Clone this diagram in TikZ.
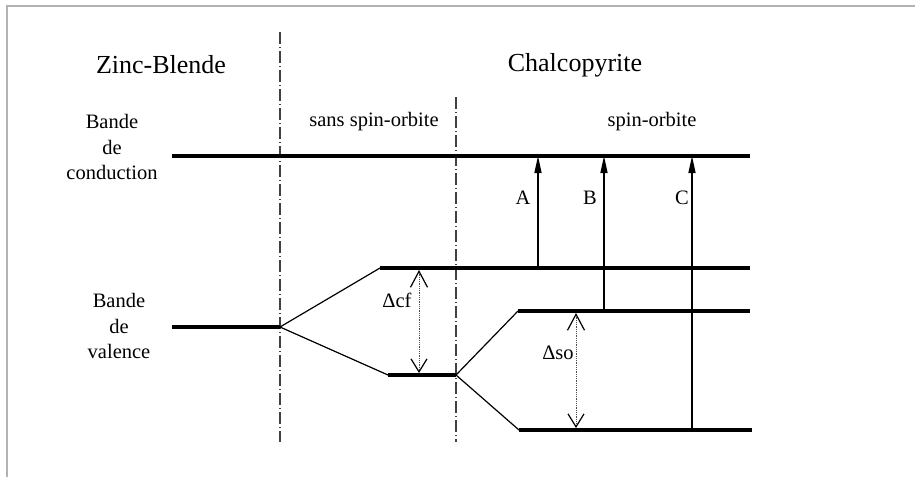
\documentclass[tikz,border=0pt]{standalone}
\usepackage{fontspec}
\setmainfont{Liberation Serif}
\usetikzlibrary{arrows.meta}
\begin{document}
\begin{tikzpicture}[x=1pt,y=-1pt,
  level/.style={line width=3.6pt},
  split/.style={line width=1.2pt},
  sep/.style={line width=1.3pt,draw=black!75,dash pattern=on 12pt off 3pt on 1pt off 3pt},
  trans/.style={line width=1.4pt,-{Stealth[length=17pt,width=7pt,inset=0pt]}},
  gap/.style={line width=0.8pt,densely dotted,draw=black!70,{Straight Barb[length=16pt,width=17pt,line width=1.2pt,color=black]}-{Straight Barb[length=13pt,width=16pt,line width=1.2pt,color=black]}},
  title/.style={font=\fontsize{26}{30}\selectfont,inner sep=0pt},
  lab/.style={font=\fontsize{20.5}{25.5}\selectfont,inner sep=0pt,align=center}]
\useasboundingbox (0,0) rectangle (915,477);
\draw[line width=2pt,draw=black!30] (7,477) -- (7,6) -- (915,6);

% separators
\coordinate (s1t) at (280,32); \coordinate (s1b) at (280,442);
\coordinate (s2t) at (456,97); \coordinate (s2b) at (456,442);
\draw[sep] (s1t) -- (s1b);
\draw[sep] (s2t) -- (s2b);

% titles
\node[title] (zb) at (161,65) {Zinc-Blende};
\node[title] (ch) at (575,65) {Chalcopyrite};
\node[lab] (sso) at (374,122) {sans spin-orbite};
\node[lab] (so) at (652,122) {spin-orbite};
\node[lab] (bc) at (112,147) {Bande\\de\\conduction};
\node[lab] (bv) at (119,326) {Bande\\de\\valence};

% levels
\coordinate (cbL) at (172,156); \coordinate (cbR) at (750,156);
\coordinate (zvL) at (172,327); \coordinate (zvR) at (280,327);
\coordinate (cfuL) at (380,268); \coordinate (cfuR) at (750,268);
\coordinate (cflL) at (388,375); \coordinate (cflR) at (456,375);
\coordinate (souL) at (518,311); \coordinate (souR) at (750,311);
\coordinate (solL) at (519,430); \coordinate (solR) at (752,430);
\draw[level] (cbL) -- (cbR);
\draw[level] (zvL) -- (zvR);
\draw[level] (cfuL) -- (cfuR);
\draw[level] (cflL) -- (cflR);
\draw[level] (souL) -- (souR);
\draw[level] (solL) -- (solR);

\draw[split] (zvR) -- (cfuL);
\draw[split] (zvR) -- (cflL);
\draw[split] (cflR) -- (souL);
\draw[split] (cflR) -- (solL);

% transitions
\coordinate (Ab) at (538,268); \coordinate (At) at (538,156);
\coordinate (Bb) at (604,311); \coordinate (Bt) at (604,156);
\coordinate (Cb) at (692,430); \coordinate (Ct) at (692,156);
\draw[trans] (Ab) -- (At);
\draw[trans] (Bb) -- (Bt);
\draw[trans] (Cb) -- (Ct);
\node[lab] (lA) at (523,198) {A};
\node[lab] (lB) at (590,198) {B};
\node[lab] (lC) at (682,198) {C};

% gaps
\coordinate (cft) at (419,270); \coordinate (cfb) at (419,373);
\coordinate (sot) at (576,313); \coordinate (sob) at (576,428);
\draw[gap] (cft) -- (cfb);
\draw[gap] (sot) -- (sob);
\node[lab] (lcf) at (397,300) {Δcf};
\node[lab] (lso) at (558,353) {Δso};
\end{tikzpicture}
\end{document}
